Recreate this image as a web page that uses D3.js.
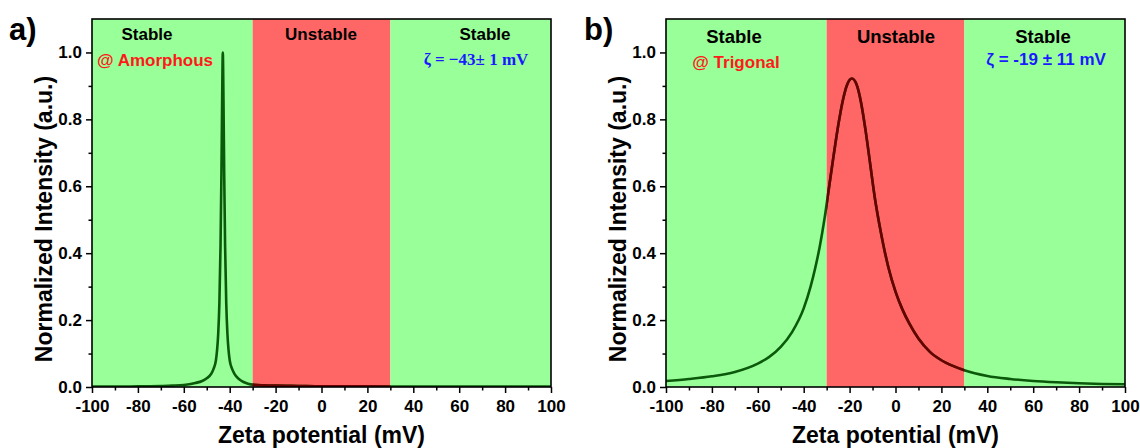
<!DOCTYPE html>
<html>
<head>
<meta charset="utf-8">
<script src="https://cdn.jsdelivr.net/npm/d3@7"></script>
<style>
  html, body { margin: 0; padding: 0; background: #ffffff; }
  svg { display: block; font-family: "Liberation Sans", Arial, sans-serif; }
</style>
</head>
<body>
<svg id="chart" width="1140" height="448"></svg>
<script>
// ---------- data ----------
const xTicks = [-100, -80, -60, -40, -20, 0, 20, 40, 60, 80, 100];
const xMinorTicks = [-90, -70, -50, -30, -10, 10, 30, 50, 70, 90];
const yTicks = [0.0, 0.2, 0.4, 0.6, 0.8, 1.0];
const yMinorTicks = [0.1, 0.3, 0.5, 0.7, 0.9];

const regionNames = ["Stable", "Unstable", "Stable"];
const regionStarts = [-100, -30, 30];
const regionEnds = [-30, 30, 100];

// Panel a (amorphous)
const zetaA = [-100, -90, -80, -70, -65, -60, -57, -55, -52, -50, -48, -47, -46, -45.5, -45, -44.5, -44, -43.6, -43.3, -43,
               -42.7, -42.4, -42, -41.5, -41, -40.5, -40, -39, -38, -36, -34, -32, -30, -25, -20, -10, 0, 20, 40, 60, 80, 100];
const intensityA = [0.001, 0.001, 0.002, 0.003, 0.004, 0.006, 0.009, 0.012, 0.018, 0.026, 0.04, 0.055, 0.08, 0.11, 0.16, 0.25, 0.42, 0.64, 0.85, 1.0,
                    0.85, 0.64, 0.42, 0.25, 0.16, 0.11, 0.08, 0.055, 0.04, 0.024, 0.015, 0.01, 0.007, 0.005, 0.004, 0.003, 0.002, 0.002, 0.001, 0.001, 0.001, 0.001];

// Panel b (trigonal)
const zetaB = [-100, -90, -80, -70, -60, -55, -50, -45, -40, -37, -35, -33, -31, -29, -27, -25, -23, -21, -19,
               -17, -15, -13, -11, -9, -7, -5, -3, 0, 3, 6, 10, 15, 20, 25, 30, 40, 50, 60, 70, 80, 90, 100];
const intensityB = [0.018, 0.024, 0.032, 0.045, 0.07, 0.09, 0.12, 0.165, 0.235, 0.30, 0.355, 0.42, 0.50, 0.595, 0.69, 0.78, 0.855, 0.905, 0.922,
                    0.905, 0.85, 0.765, 0.665, 0.565, 0.485, 0.415, 0.355, 0.285, 0.232, 0.19, 0.145, 0.105, 0.08, 0.063, 0.05, 0.033, 0.024, 0.018, 0.014, 0.011, 0.009, 0.008];

const panelLetters = ["a)", "b)"];
const phaseLabels = ["@ Amorphous", "@ Trigonal"];
const zetaLabels = ["\u03B6 = \u221243\u00B1 1 mV", "\u03B6 = -19 \u00B1 11 mV"];
const xTitle = "Zeta potential (mV)";
const yTitle = "Normalized Intensity (a.u.)";

// ---------- drawing ----------
const svg = d3.select("#chart");
const greenFill = "#99ff99", redFill = "#ff6666";
const lineGreen = "#0b5a0b", lineRed = "#6a0000";

const panels = [
  { left: 92, right: 551, zeta: zetaA, inten: intensityA, headSize: 17, headY: 40, phaseY: 66, zetaY: 65,
    headX: [147, 321, 485], phaseX: 155, zetaX: 476, zetaFont: '"Liberation Serif", "Times New Roman", serif', letterX: 9 },
  { left: 666, right: 1125, zeta: zetaB, inten: intensityB, headSize: 18.5, headY: 43, phaseY: 68, zetaY: 65,
    headX: [734, 896, 1043], phaseX: 736, zetaX: 1046, zetaFont: '"Liberation Sans", Arial, sans-serif', letterX: 584 }
];
const plotTop = 19, plotBottom = 387;

panels.forEach((p, i) => {
  const x = d3.scaleLinear().domain([-100, 100]).range([p.left, p.right]);
  const y = d3.scaleLinear().domain([0, 1.1]).range([plotBottom, plotTop]);
  const g = svg.append("g");

  // regions
  g.selectAll("rect.region").data(regionStarts).enter().append("rect")
    .attr("class", "region")
    .attr("x", (d) => x(d))
    .attr("y", plotTop)
    .attr("width", (d, k) => x(regionEnds[k]) - x(d))
    .attr("height", plotBottom - plotTop)
    .attr("fill", (d, k) => regionNames[k] === "Unstable" ? redFill : greenFill);

  // clips
  const clipAll = "clipAll" + i, clipRed = "clipRed" + i;
  const defs = svg.append("defs");
  defs.append("clipPath").attr("id", clipAll).append("rect")
    .attr("x", p.left).attr("y", plotTop).attr("width", p.right - p.left).attr("height", plotBottom - plotTop);
  defs.append("clipPath").attr("id", clipRed).append("rect")
    .attr("x", x(regionStarts[1])).attr("y", plotTop).attr("width", x(regionEnds[1]) - x(regionStarts[1])).attr("height", plotBottom - plotTop);

  const pts = p.zeta.map((z, k) => [z, p.inten[k]]);
  const line = d3.line().x(d => x(d[0])).y(d => y(d[1])).curve(d3.curveMonotoneX);
  g.append("path").attr("d", line(pts)).attr("fill", "none").attr("stroke", lineGreen)
    .attr("stroke-width", 2.6).attr("stroke-linejoin", "round").attr("clip-path", `url(#${clipAll})`);
  g.append("path").attr("d", line(pts)).attr("fill", "none").attr("stroke", lineRed)
    .attr("stroke-width", 2.6).attr("stroke-linejoin", "round").attr("clip-path", `url(#${clipRed})`);

  // axes
  const xAxis = d3.axisBottom(x).tickValues(xTicks).tickSize(6).tickPadding(7).tickFormat(d => String(d));
  const xAxisMinor = d3.axisBottom(x).tickValues(xMinorTicks).tickSize(3.5).tickFormat("");
  const yAxis = d3.axisLeft(y).tickValues(yTicks).tickSize(6).tickPadding(4).tickFormat(d3.format(".1f"));
  const yAxisMinor = d3.axisLeft(y).tickValues(yMinorTicks).tickSize(3.5).tickFormat("");

  [[xAxis, "x"], [xAxisMinor, "x"], [yAxis, "y"], [yAxisMinor, "y"]].forEach(([ax, t]) => {
    const ag = g.append("g")
      .attr("transform", t === "x" ? `translate(0,${plotBottom})` : `translate(${p.left},0)`)
      .call(ax);
    ag.select(".domain").remove();
    ag.selectAll(".tick line").attr("stroke", "#000").attr("stroke-width", 1.5);
    ag.selectAll(".tick text").attr("fill", "#000").attr("font-size", 17).attr("font-weight", "bold")
      .attr("font-family", '"Liberation Sans", Arial, sans-serif');
  });

  // frame
  g.append("rect").attr("x", p.left).attr("y", plotTop).attr("width", p.right - p.left).attr("height", plotBottom - plotTop)
    .attr("fill", "none").attr("stroke", "#000").attr("stroke-width", 1.6);

  // region headings
  g.selectAll("text.head").data(regionNames).enter().append("text")
    .attr("class", "head")
    .attr("x", (d, k) => p.headX[k]).attr("y", p.headY)
    .attr("text-anchor", "middle").attr("font-size", p.headSize).attr("font-weight", "bold").attr("fill", "#000")
    .text(d => d);

  g.append("text").attr("x", p.phaseX).attr("y", p.phaseY).attr("text-anchor", "middle")
    .attr("font-size", 17).attr("font-weight", "bold").attr("fill", "#ff1a1a").text(phaseLabels[i]);

  g.append("text").attr("x", p.zetaX).attr("y", p.zetaY).attr("text-anchor", "middle")
    .attr("font-size", 17).attr("font-weight", "bold").attr("fill", "#1a1aff")
    .attr("font-family", p.zetaFont).text(zetaLabels[i]);

  // titles
  g.append("text").attr("x", (p.left + p.right) / 2).attr("y", 443).attr("text-anchor", "middle")
    .attr("font-size", 23).attr("font-weight", "bold").attr("fill", "#000").text(xTitle);
  g.append("text").attr("transform", `translate(${p.left - 40},${(plotTop + plotBottom) / 2 + 16}) rotate(-90)`)
    .attr("text-anchor", "middle").attr("font-size", 23).attr("font-weight", "bold").attr("fill", "#000").text(yTitle);

  // panel letter
  g.append("text").attr("x", p.letterX).attr("y", 40).attr("font-size", 31).attr("font-weight", "bold")
    .attr("fill", "#000").text(panelLetters[i]);
});
</script>
</body>
</html>
